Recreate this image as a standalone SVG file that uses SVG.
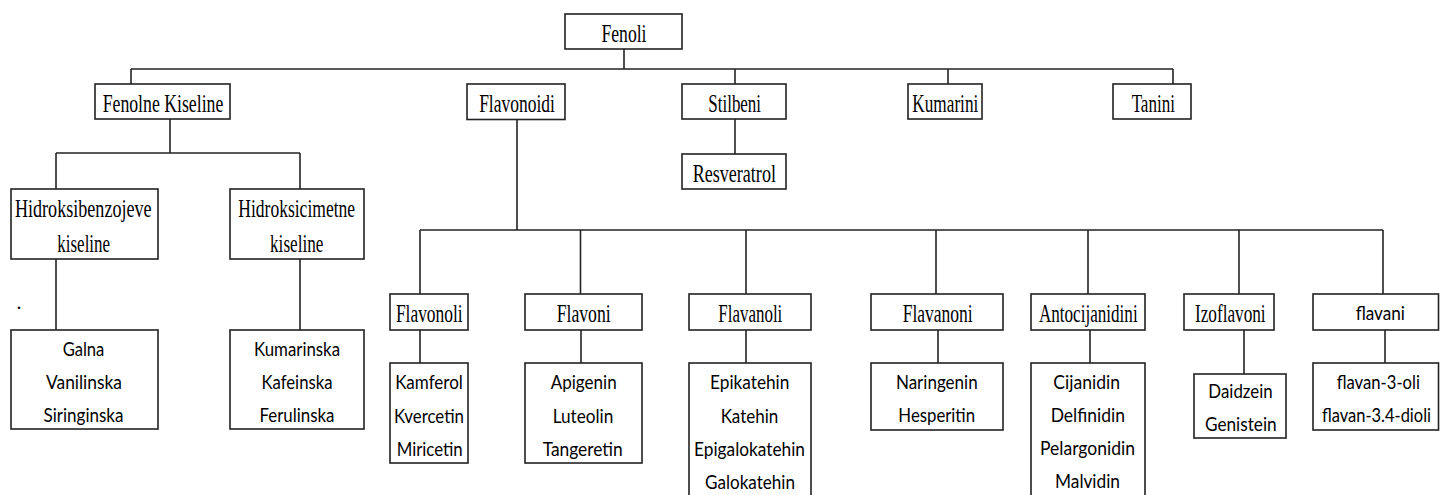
<svg xmlns="http://www.w3.org/2000/svg" width="1440" height="495" viewBox="0 0 1440 495">
<style>
.box{fill:#fff;stroke:#222;stroke-width:1.6}
.con line{stroke:#222;stroke-width:1.6}
.s{font-family:"Liberation Serif","Times New Roman",serif;font-size:25px;fill:#000;text-anchor:middle}
.t{font-family:Lato,"Liberation Sans",sans-serif;font-size:19.5px;fill:#000;text-anchor:middle}
</style>
<rect width="1440" height="495" fill="#fff"/>
<g class="con">
<line x1="624" y1="49" x2="624" y2="69"/>
<line x1="131" y1="69" x2="1173" y2="69"/>
<line x1="131" y1="69" x2="131" y2="84"/>
<line x1="735" y1="69" x2="735" y2="84"/>
<line x1="948" y1="69" x2="948" y2="84"/>
<line x1="1173" y1="69" x2="1173" y2="84"/>
<line x1="170" y1="119" x2="170" y2="153"/>
<line x1="56" y1="153" x2="300" y2="153"/>
<line x1="56" y1="153" x2="56" y2="189"/>
<line x1="300" y1="153" x2="300" y2="189"/>
<line x1="56" y1="259" x2="56" y2="330"/>
<line x1="300" y1="259" x2="300" y2="330"/>
<line x1="735" y1="119" x2="735" y2="154"/>
<line x1="517" y1="119" x2="517" y2="230"/>
<line x1="420" y1="230" x2="1383" y2="230"/>
<line x1="420" y1="230" x2="420" y2="294"/>
<line x1="580.5" y1="230" x2="580.5" y2="294"/>
<line x1="746" y1="230" x2="746" y2="294"/>
<line x1="936" y1="230" x2="936" y2="294"/>
<line x1="1088" y1="230" x2="1088" y2="294"/>
<line x1="1239" y1="230" x2="1239" y2="294"/>
<line x1="1383" y1="230" x2="1383" y2="294"/>
<line x1="420" y1="330" x2="420" y2="363"/>
<line x1="581" y1="330" x2="581" y2="363"/>
<line x1="746" y1="330" x2="746" y2="363"/>
<line x1="938" y1="330" x2="938" y2="363"/>
<line x1="1090" y1="330" x2="1090" y2="363"/>
<line x1="1244" y1="330" x2="1244" y2="374"/>
<line x1="1385" y1="330" x2="1385" y2="363"/>
</g>
<g id="fenoli"><rect class="box" x="565" y="14" width="117" height="35"/><text class="s" x="624" y="42" textLength="45" lengthAdjust="spacingAndGlyphs">Fenoli</text></g>
<g id="fenolne-kiseline"><rect class="box" x="95" y="84" width="135" height="35"/><text class="s" x="163" y="112" textLength="120.7" lengthAdjust="spacingAndGlyphs">Fenolne Kiseline</text></g>
<g id="flavonoidi"><rect class="box" x="467" y="84" width="98" height="35.5"/><text class="s" x="517" y="112" textLength="75.7" lengthAdjust="spacingAndGlyphs">Flavonoidi</text></g>
<g id="stilbeni"><rect class="box" x="682" y="84" width="104" height="35"/><text class="s" x="734.7" y="112" textLength="52.7" lengthAdjust="spacingAndGlyphs">Stilbeni</text></g>
<g id="kumarini"><rect class="box" x="908" y="84" width="74" height="35"/><text class="s" x="945.3" y="112" textLength="66" lengthAdjust="spacingAndGlyphs">Kumarini</text></g>
<g id="tanini"><rect class="box" x="1113" y="84" width="78" height="35"/><text class="s" x="1153.3" y="112" textLength="43.3" lengthAdjust="spacingAndGlyphs">Tanini</text></g>
<g id="resveratrol"><rect class="box" x="682" y="154" width="104" height="35"/><text class="s" x="734.3" y="182" textLength="83.3" lengthAdjust="spacingAndGlyphs">Resveratrol</text></g>
<g id="hidroksibenzojeve"><rect class="box" x="11" y="189" width="147" height="70"/><text class="s" x="83.3" y="217" textLength="136.7" lengthAdjust="spacingAndGlyphs">Hidroksibenzojeve</text><text class="s" x="83.7" y="252" textLength="52.7" lengthAdjust="spacingAndGlyphs">kiseline</text></g>
<g id="hidroksicimetne"><rect class="box" x="230" y="189" width="134" height="70"/><text class="s" x="296.7" y="217" textLength="116.7" lengthAdjust="spacingAndGlyphs">Hidroksicimetne</text><text class="s" x="296.7" y="252" textLength="53.3" lengthAdjust="spacingAndGlyphs">kiseline</text></g>
<text class="s" x="19" y="309" style="font-size:20px">.</text>
<g id="benzojeve-list"><rect class="box" x="11" y="330" width="147" height="99"/><text class="t" x="83.5" y="356" textLength="41.7" lengthAdjust="spacingAndGlyphs">Galna</text><text class="t" x="84" y="389" textLength="76" lengthAdjust="spacingAndGlyphs">Vanilinska</text><text class="t" x="83.5" y="422" textLength="80" lengthAdjust="spacingAndGlyphs">Siringinska</text></g>
<g id="cimetne-list"><rect class="box" x="230" y="330" width="134" height="99"/><text class="t" x="297" y="356" textLength="86" lengthAdjust="spacingAndGlyphs">Kumarinska</text><text class="t" x="297" y="389" textLength="71" lengthAdjust="spacingAndGlyphs">Kafeinska</text><text class="t" x="297" y="422" textLength="75" lengthAdjust="spacingAndGlyphs">Ferulinska</text></g>
<g id="flavonoli"><rect class="box" x="390" y="294" width="78" height="36"/><text class="s" x="429.3" y="322" textLength="66.7" lengthAdjust="spacingAndGlyphs">Flavonoli</text></g>
<g id="flavoni"><rect class="box" x="525" y="294" width="117" height="36"/><text class="s" x="583.7" y="322" textLength="54" lengthAdjust="spacingAndGlyphs">Flavoni</text></g>
<g id="flavanoli"><rect class="box" x="689" y="294" width="122" height="36"/><text class="s" x="750.3" y="322" textLength="64" lengthAdjust="spacingAndGlyphs">Flavanoli</text></g>
<g id="flavanoni"><rect class="box" x="871" y="294" width="132" height="36"/><text class="s" x="937.7" y="322" textLength="70" lengthAdjust="spacingAndGlyphs">Flavanoni</text></g>
<g id="antocijanidini"><rect class="box" x="1031" y="294" width="114" height="36"/><text class="s" x="1088.3" y="322" textLength="98.7" lengthAdjust="spacingAndGlyphs">Antocijanidini</text></g>
<g id="izoflavoni"><rect class="box" x="1184" y="294" width="90" height="36"/><text class="s" x="1230.3" y="322" textLength="70.7" lengthAdjust="spacingAndGlyphs">Izoflavoni</text></g>
<g id="flavani"><rect class="box" x="1313" y="294" width="125.5" height="36"/><text class="t" x="1380.3" y="320" textLength="49.3" lengthAdjust="spacingAndGlyphs">flavani</text></g>
<g id="flavonoli-list"><rect class="box" x="390" y="363" width="78" height="100"/><text class="t" x="429" y="389" textLength="67.7" lengthAdjust="spacingAndGlyphs">Kamferol</text><text class="t" x="429" y="422.5" textLength="70" lengthAdjust="spacingAndGlyphs">Kvercetin</text><text class="t" x="429.7" y="456" textLength="66" lengthAdjust="spacingAndGlyphs">Miricetin</text></g>
<g id="flavoni-list"><rect class="box" x="525" y="363" width="117" height="100"/><text class="t" x="583.7" y="389" textLength="66" lengthAdjust="spacingAndGlyphs">Apigenin</text><text class="t" x="583" y="422.5" textLength="60.7" lengthAdjust="spacingAndGlyphs">Luteolin</text><text class="t" x="582.7" y="456" textLength="80" lengthAdjust="spacingAndGlyphs">Tangeretin</text></g>
<g id="flavanoli-list"><rect class="box" x="689" y="363" width="122" height="140"/><text class="t" x="749.7" y="389" textLength="79.3" lengthAdjust="spacingAndGlyphs">Epikatehin</text><text class="t" x="749.5" y="422.5" textLength="57.7" lengthAdjust="spacingAndGlyphs">Katehin</text><text class="t" x="749.5" y="456" textLength="111" lengthAdjust="spacingAndGlyphs">Epigalokatehin</text><text class="t" x="750" y="489" textLength="90" lengthAdjust="spacingAndGlyphs">Galokatehin</text></g>
<g id="flavanoni-list"><rect class="box" x="871" y="363" width="132" height="67"/><text class="t" x="936.8" y="389" textLength="81.7" lengthAdjust="spacingAndGlyphs">Naringenin</text><text class="t" x="936.7" y="422.3" textLength="76.7" lengthAdjust="spacingAndGlyphs">Hesperitin</text></g>
<g id="antocijanidini-list"><rect class="box" x="1031" y="363" width="114" height="140"/><text class="t" x="1086.7" y="388.5" textLength="66.7" lengthAdjust="spacingAndGlyphs">Cijanidin</text><text class="t" x="1087.8" y="421.8" textLength="74.3" lengthAdjust="spacingAndGlyphs">Delfinidin</text><text class="t" x="1087.5" y="455" textLength="95" lengthAdjust="spacingAndGlyphs">Pelargonidin</text><text class="t" x="1087.5" y="488.3" textLength="65" lengthAdjust="spacingAndGlyphs">Malvidin</text></g>
<g id="izoflavoni-list"><rect class="box" x="1194" y="374" width="92" height="64"/><text class="t" x="1240.5" y="397.5" textLength="64.3" lengthAdjust="spacingAndGlyphs">Daidzein</text><text class="t" x="1240.8" y="431" textLength="71.7" lengthAdjust="spacingAndGlyphs">Genistein</text></g>
<g id="flavani-list"><rect class="box" x="1313" y="363" width="125.5" height="67"/><text class="t" x="1378.3" y="388.5" textLength="83.3" lengthAdjust="spacingAndGlyphs">flavan-3-oli</text><text class="t" x="1376.5" y="422" textLength="109" lengthAdjust="spacingAndGlyphs">flavan-3.4-dioli</text></g>
</svg>
